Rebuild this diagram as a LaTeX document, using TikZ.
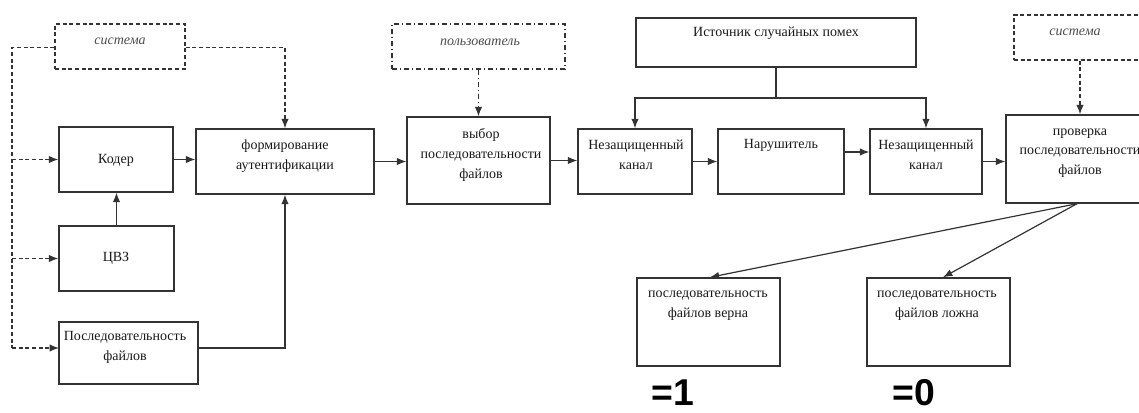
\documentclass[tikz,border=0pt]{standalone}
\usepackage{fontspec}
\setmainfont{Liberation Serif}
\newfontfamily\eqfont{Liberation Sans}
\usetikzlibrary{arrows.meta,fit}
\begin{document}
\begin{tikzpicture}[x=0.75pt,y=-0.75pt,
  box/.style={draw=black!80,line width=1.05pt,inner sep=0pt},
  dbox/.style={box,dash pattern=on 3pt off 2pt},
  ddbox/.style={box,dash pattern=on 4pt off 2pt on 1pt off 2pt},
  txt/.style={font=\fontsize{10.5}{14.8}\selectfont,align=center,inner sep=0pt,text=black!90},
  itxt/.style={font=\fontsize{10.5}{14.8}\selectfont\itshape,align=center,inner sep=0pt,text=black!70},
  eq/.style={font=\eqfont\bfseries\fontsize{28}{28}\selectfont,inner sep=0pt,text=black},
  ln/.style={draw=black!80,line width=0.9pt},
  arr/.style={ln,-{Latex[length=7pt,width=5.5pt]}},
  darr/.style={arr,dash pattern=on 3pt off 2pt},
  dln/.style={ln,dash pattern=on 3pt off 2pt},
  ddarr/.style={arr,dash pattern=on 4pt off 2pt on 1pt off 2pt}
]
\useasboundingbox (0,0) rectangle (1139,413);
\clip (0,0) rectangle (1139,413);

% top boxes
\node[dbox,fit={(55,24)(185,69)}] (sysL) {};
\node[itxt] (sysLt) at (120,41) {система};
\node[ddbox,fit={(392,24)(565,69)}] (user) {};
\node[itxt] (usert) at (480,42) {пользователь};
\node[box,fit={(636,18)(916,67)}] (src) {};
\node[txt] (srct) at (776,33) {Источник случайных помех};
\node[dbox,fit={(1014,15)(1150,60)}] (sysR) {};
\node[itxt] (sysRt) at (1075,32) {система};

% main row
\node[box,fit={(59,127)(173,192)}] (koder) {};
\node[txt] (kodert) at (116,160) {Кодер};
\node[box,fit={(59,226)(174,291)}] (cvz) {};
\node[txt] (cvzt) at (116,258) {ЦВЗ};
\node[box,fit={(59,322)(198,384)}] (seq) {};
\node[txt] (seqt) at (125,347.5) {Последовательность\\файлов};
\node[box,fit={(196,129)(374,194)}] (form) {};
\node[txt] (formt) at (285,156.5) {формирование\\аутентификации};
\node[box,fit={(407,117)(550,204)}] (vyb) {};
\node[txt] (vybt) at (481,155) {выбор\\последовательности\\файлов};
\node[box,fit={(578,129)(692,194)}] (ch1) {};
\node[txt] (ch1t) at (636,155) {Незащищенный\\канал};
\node[box,fit={(718,129)(844,194)}] (nar) {};
\node[txt] (nart) at (781,145) {Нарушитель};
\node[box,fit={(870,129)(982,194)}] (ch2) {};
\node[txt] (ch2t) at (926,155) {Незащищенный\\канал};
\node[box,fit={(1006,115)(1154,203)}] (chk) {};
\node[txt] (chkt) at (1080,153) {проверка\\последовательности\\файлов};

% results
\node[box,fit={(637,278)(780,366)}] (ok) {};
\node[txt] (okt) at (708,305.5) {последовательность\\файлов верна};
\node[box,fit={(867,278)(1010,366)}] (bad) {};
\node[txt] (badt) at (937,305.5) {последовательность\\файлов ложна};
\node[eq,anchor=base] (one) at (673,405) {=1};
\node[eq,anchor=base] (zero) at (914,405) {=0};

% coordinates
\coordinate (L1) at (12,47.5);
\coordinate (seqin) at (59,348);
\coordinate (J) at (776,98);
\coordinate (narout) at (844,152);

% dashed system lines (left)
\draw[dln] (sysL.west |- L1) -- (L1) -- (L1 |- seqin);
\draw[darr] (koder.west -| L1) -- (koder.west);
\draw[darr] (cvz.west -| L1) -- (cvz.west);
\draw[darr] (seqin -| L1) -- (seqin);
\draw[darr] (sysL.east |- L1) -| (form.north);

% user
\draw[ddarr] (user.south) -- (vyb.north);

% noise source
\draw[ln] (src.south) -- (J);
\draw[arr] (J) -| (ch1.north);
\draw[arr] (J) -| (ch2.north);

% system right
\draw[darr] (sysR.south -| chk.north) -- (chk.north);

% main flow
\draw[arr] (koder.east) -- (koder.east -| form.west);
\draw[arr] (cvz.north) -- (cvz.north |- koder.south);
\draw[arr] (seqin -| seq.east) -| (form.south);
\draw[arr] (form.east) -- (form.east -| vyb.west);
\draw[arr] (vyb.east) -- (vyb.east -| ch1.west);
\draw[arr] (ch1.east) -- (ch1.east -| nar.west);
\draw[arr] (narout) -- (narout -| ch2.west);
\draw[arr] (ch2.east) -- (ch2.east -| chk.west);

% results
\draw[arr] ([xshift=-2.25pt]chk.south) -- ([xshift=1pt]ok.north);
\draw[arr] ([xshift=-2.25pt]chk.south) -- ([xshift=3.4pt]bad.north);
\end{tikzpicture}
\end{document}
